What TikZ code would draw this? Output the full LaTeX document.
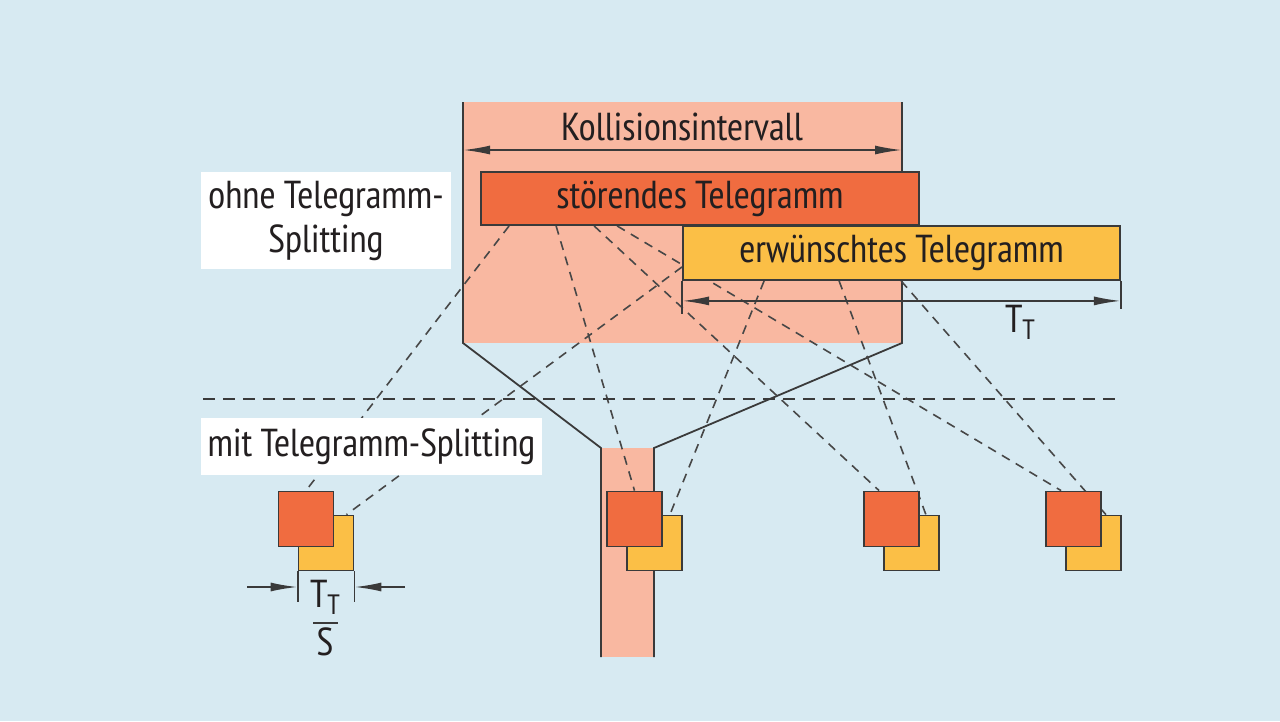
\documentclass[tikz,border=0pt]{standalone}
\usepackage{fontspec}
\setmainfont{PT Sans Narrow}
\usetikzlibrary{positioning,calc,arrows.meta}
\definecolor{hgblau}{HTML}{D7EAF2}
\definecolor{kollrosa}{HTML}{F9B8A1}
\definecolor{stoerrot}{HTML}{F06C40}
\definecolor{wunschgelb}{HTML}{FBBF46}
\definecolor{linie}{HTML}{3A3A3A}
\definecolor{schrift}{HTML}{231F20}
\pgfdeclarelayer{hinten}
\pgfdeclarelayer{mitte}
\pgfsetlayers{hinten,mitte,main}

\begin{document}
\begin{tikzpicture}[x=1pt,y=-1pt,
  every node/.style={font=\fontsize{39}{44}\selectfont,text=schrift},
  balken/.style={draw=linie,line width=1.8pt,minimum height=53pt,inner sep=0pt},
  quad/.style={draw=linie,line width=1.8pt,minimum size=55pt,inner sep=0pt},
  schild/.style={fill=white,inner sep=0pt,align=center},
  strich/.style={dash pattern=on 9pt off 7pt,line width=1.6pt,draw=black!72},
  mass/.style={line width=1.8pt,draw=linie,>={Latex[length=27pt,width=9pt]}}]
\useasboundingbox (0,0) rectangle (1280,721);

% Kollisionsbereich
\begin{pgfonlayer}{hinten}
\fill[hgblau] (0,0) rectangle (1280,721);
\fill[kollrosa] (463,102) rectangle (902,343);
\fill[kollrosa] (601,448) rectangle (654,657);
\draw[linie,line width=1.8pt] (463,102) -- (463,343) -- (601,448) -- (601,657);
\draw[linie,line width=1.8pt] (902,102) -- (902,343) -- (654,448) -- (654,657);
\end{pgfonlayer}
\coordinate (kl) at (463,150);
\coordinate (kr) at (902,150);
\draw[mass,<->] (kl) -- (kr);
\node (koll) at (682,127) {Kollisionsintervall};

% Telegramme
\node[balken,fill=stoerrot,minimum width=438pt] (stoer) at (700,198.5) {störendes Telegramm};
\node[balken,fill=wunschgelb,minimum width=437pt,minimum height=54pt] (wunsch) at (901.5,253) {erwünschtes Telegramm};
\draw[mass] (wunsch.south west) -- ++(0,33);
\draw[mass] (wunsch.south east) -- ++(0,28);
\draw[mass,<->] ($(wunsch.south west)+(0,20)$) -- ($(wunsch.south east)+(0,20)$);
\node (tt) at (1020,322) {T\raisebox{-0.35ex}{\fontsize{28}{30}\selectfont T}};

% Teilpakete
\foreach \n/\x in {1/306,2/634.5,3/891.5,4/1073.5}{
  \node[quad,fill=wunschgelb] (y\n) at (\x+20,543) {};
  \node[quad,fill=stoerrot] (r\n) at (\x,519) {};
}
\draw[mass] (y1.south west) -- ++(0,31);
\draw[mass] (y1.south east) -- ++(0,31);
\coordinate (pl) at (247,587);
\coordinate (pr) at (405,587);
\draw[mass,->] (pl) -- (pl -| y1.south west);
\draw[mass,->] (pr) -- (pr -| y1.south east);
\node (tts) at (325,597) {T\raisebox{-0.35ex}{\fontsize{28}{30}\selectfont T}};
\draw[linie,line width=1.8pt] (313,623) -- (338,623);
\node (s) at (325,642) {S};

% Zuordnung
\begin{pgfonlayer}{mitte}
\draw[strich] ($(stoer.south west)+(29,0)$) -- (r1.north);
\draw[strich] ($(stoer.south west)+(76,0)$) -- (r2.north);
\draw[strich] ($(stoer.south west)+(114,0)$) -- ($(r3.north west)+(16,0)$);
\draw[strich] ($(stoer.south west)+(137,0)$) -- ($(r4.north west)+(16,0)$);
\draw[strich] ($(wunsch.south west)+(0,-14)$) -- ($(y1.north east)+(-8,0)$);
\draw[strich] ($(wunsch.south west)+(82,0)$) -- ($(y2.north east)+(-13,0)$);
\draw[strich] ($(wunsch.south west)+(157,0)$) -- ($(y3.north east)+(-14,0)$);
\draw[strich] ($(wunsch.south west)+(219,0)$) -- ($(y4.north east)+(-16,0)$);
\end{pgfonlayer}
\coordinate (tl) at (203,399);
\coordinate (tr) at (1120,399);
\draw[dash pattern=on 12pt off 8pt,line width=2.2pt,draw=linie] (tl) -- (tr);

% Beschriftung
\node[schild,minimum width=250pt,minimum height=97pt] (ohne) at (326,220.5) {ohne Telegramm-\\Splitting};
\node[schild,minimum width=341pt,minimum height=57pt] (mit) at (371.5,446.5) {mit Telegramm-Splitting};
\end{tikzpicture}
\end{document}
